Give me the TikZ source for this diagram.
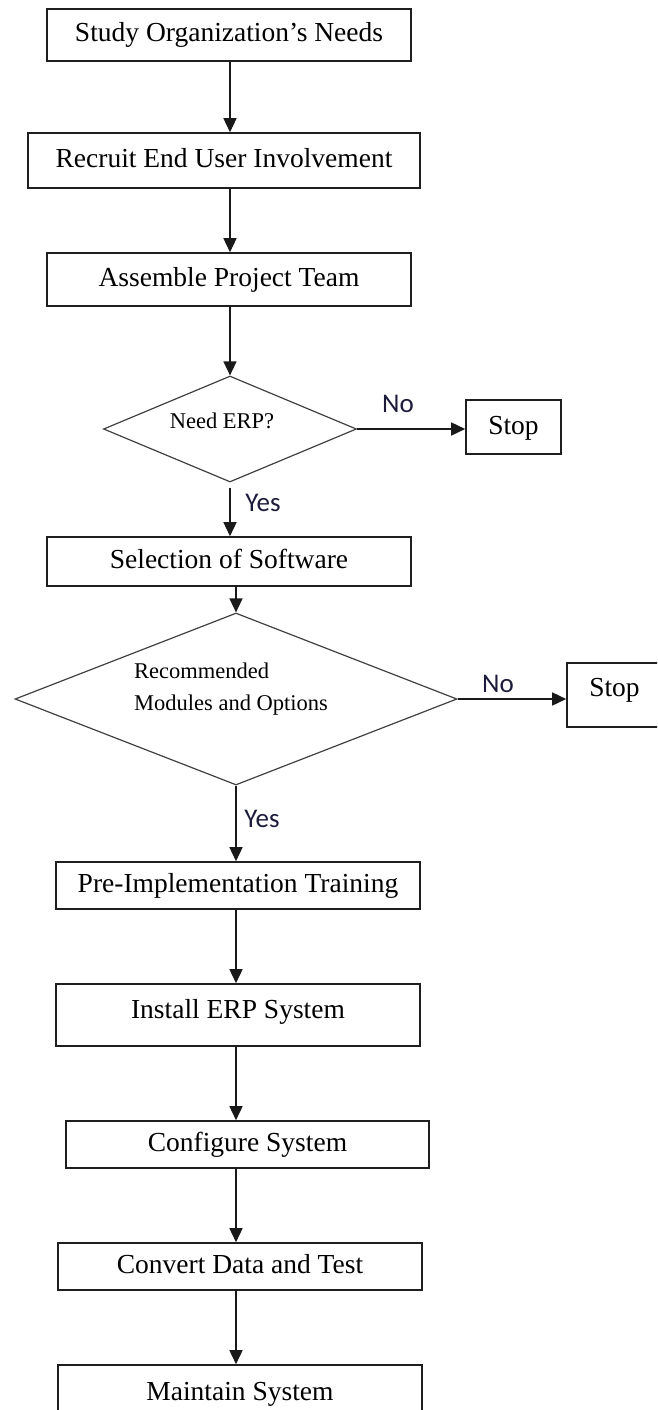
\documentclass[tikz,border=0pt]{standalone}
\usepackage{fontspec}
\setmainfont{Liberation Serif}
\newfontfamily\lblfont{Carlito}
\usetikzlibrary{shapes.geometric,arrows.meta,calc}
\begin{document}
\begin{tikzpicture}[x=1pt,y=-1pt,
  box/.style={draw=black!88,line width=1.6pt,inner sep=0pt,
    font=\fontsize{27.5}{31}\selectfont,text=black,
    text height=18pt,text depth=4pt},
  dia/.style={draw=black!75,line width=1.2pt,shape=diamond,inner sep=0pt},
  diatxt/.style={inner sep=0pt,font=\fontsize{22.5}{32}\selectfont,text=black},
  arr/.style={draw=black!90,line width=1.5pt,-{Triangle[width=13pt,length=14pt]}},
  yn/.style={inner sep=0pt,font=\lblfont\fontsize{27}{30}\selectfont,
    text={rgb,255:red,28;green,28;blue,58}}]
\useasboundingbox (0,0) rectangle (657,1410);
\clip (0,0) rectangle (657,1410);

% boxes
\node[box,minimum width=364pt,minimum height=52pt] (b1) at (229,35) {Study Organization’s Needs};
\node[box,minimum width=392pt,minimum height=55pt] (b2) at (224,160.5) {Recruit End User Involvement};
\node[box,minimum width=364pt,minimum height=53pt] (b3) at (229,279.5) {Assemble Project Team};

\node[dia,minimum width=253pt,minimum height=106pt] (d1) at (230,429) {};
\node[diatxt] (d1t) at (222,421) {Need ERP?};
\node[box,minimum width=95pt,minimum height=54pt] (s1) at (513.5,427) {Stop};

\node[box,minimum width=364pt,minimum height=49pt] (sel) at (229,561.5) {Selection of Software};

\node[dia,minimum width=442pt,minimum height=172pt] (d2) at (236,699) {};
\node[diatxt,align=left,anchor=west] (d2t) at (134,689) {Recommended\\Modules and Options};
\node[box,minimum width=95pt,minimum height=64pt,text depth=16pt] (s2) at (614.5,695) {Stop};

\node[box,minimum width=364pt,minimum height=47pt] (pre) at (238,885.5) {Pre-Implementation Training};
\node[box,minimum width=364pt,minimum height=62pt,text depth=12pt] (inst) at (238,1015) {Install ERP System};
\node[box,minimum width=363pt,minimum height=47pt] (conf) at (247.5,1144.5) {Configure System};
\node[box,minimum width=364pt,minimum height=47pt] (conv) at (240,1266.5) {Convert Data and Test};
\node[box,minimum width=364pt,minimum height=60pt,text depth=8pt] (maint) at (240,1395) {Maintain System};

% labels
\node[yn] (no1) at (398,404) {No};
\node[yn] (yes1) at (263,503) {Yes};
\node[yn] (no2) at (498,684) {No};
\node[yn] (yes2) at (262,819) {Yes};

% connectors
\draw[arr] (b1.south -| d1.north) -- (b2.north -| d1.north);
\draw[arr] (b2.south -| d1.north) -- (b3.north -| d1.north);
\draw[arr] (b3.south -| d1.north) -- (d1.north);
\draw[arr] (d1.east) -- (d1.east -| s1.west);
\draw[arr,shorten <=5pt] (d1.south) -- (sel.north -| d1.south);
\draw[arr] (sel.south -| d2.north) -- (d2.north);
\draw[arr] (d2.east) -- (d2.east -| s2.west);
\draw[arr] (d2.south) -- (pre.north -| d2.south);
\draw[arr] (pre.south -| d2.south) -- (inst.north -| d2.south);
\draw[arr] (inst.south -| d2.south) -- (conf.north -| d2.south);
\draw[arr] (conf.south -| d2.south) -- (conv.north -| d2.south);
\draw[arr] (conv.south -| d2.south) -- (maint.north -| d2.south);
\end{tikzpicture}
\end{document}
